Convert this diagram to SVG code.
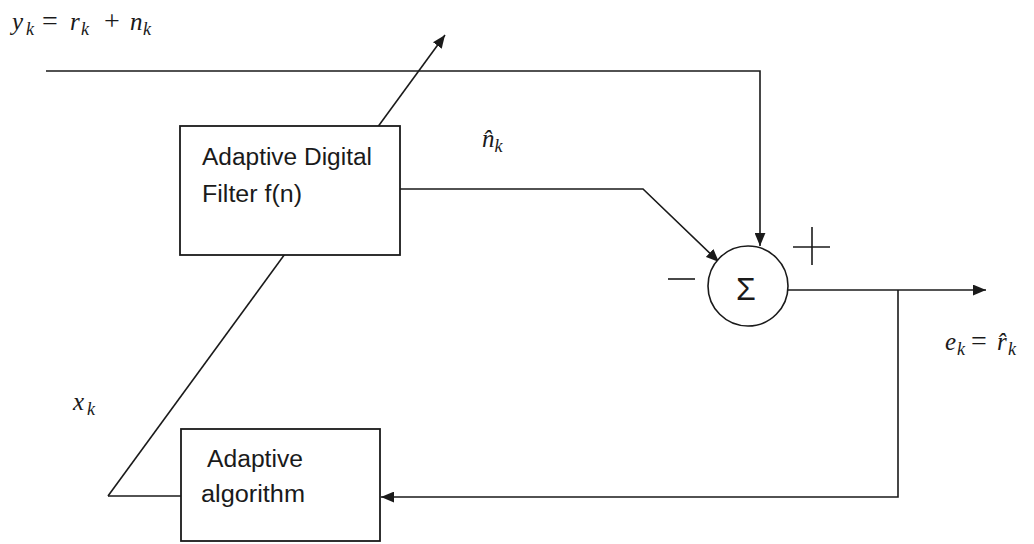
<svg xmlns="http://www.w3.org/2000/svg" width="1034" height="544" viewBox="0 0 1034 544">
<style>
.ln{fill:none;stroke:#1a1a1a;stroke-width:1.6}
.box{fill:#fff;stroke:#1a1a1a;stroke-width:1.8}
.lbl{font-family:"Liberation Sans",Arial,sans-serif;font-size:23px;fill:#1a1a1a}
.m{font-family:"Liberation Serif","DejaVu Serif",serif;font-style:italic;font-size:25px;fill:#1a1a1a}
.sub{font-size:18px}
.op{font-style:normal}
</style>
<defs>
<marker id="ah" viewBox="0 0 12 10" refX="12" refY="5" markerWidth="13" markerHeight="11" markerUnits="userSpaceOnUse" orient="auto">
<path d="M0,0 L12,5 L0,10 Z" fill="#1a1a1a"/>
</marker>
</defs>
<rect width="1034" height="544" fill="#fff"/>
<g id="connectors">
<polyline class="ln" points="46,71 760,71 760,246" marker-end="url(#ah)"/>
<line class="ln" x1="108" y1="496" x2="445" y2="35" marker-end="url(#ah)"/>
<line class="ln" x1="108" y1="496" x2="181" y2="496"/>
<polyline class="ln" points="400,189 643,189 719,262" marker-end="url(#ah)"/>
<line class="ln" x1="788" y1="290" x2="986" y2="290" marker-end="url(#ah)"/>
<polyline class="ln" points="898,290 898,497 381,497" marker-end="url(#ah)"/>
</g>
<g id="filter">
<rect class="box" x="180" y="126" width="220" height="129"/>
<text class="lbl" x="202" y="165" textLength="170" lengthAdjust="spacingAndGlyphs">Adaptive Digital</text>
<text class="lbl" x="202" y="202" textLength="100" lengthAdjust="spacingAndGlyphs">Filter f(n)</text>
</g>
<g id="algorithm">
<rect class="box" x="181" y="429" width="199" height="112"/>
<text class="lbl" x="207" y="467" textLength="96" lengthAdjust="spacingAndGlyphs">Adaptive</text>
<text class="lbl" x="201" y="502" textLength="104" lengthAdjust="spacingAndGlyphs">algorithm</text>
</g>
<g id="sum">
<circle cx="748" cy="286" r="40" fill="#fff" stroke="#1a1a1a" stroke-width="1.6"/>
<text x="746" y="300" text-anchor="middle" font-family="'Liberation Sans',sans-serif" font-size="32" fill="#1a1a1a">Σ</text>
<line class="ln" x1="668" y1="279" x2="695" y2="279"/>
<line class="ln" x1="793" y1="247" x2="830" y2="247"/>
<line class="ln" x1="812" y1="227" x2="812" y2="265"/>
</g>
<g id="labels">
<text class="m" x="12" y="30">y<tspan class="sub" x="26" y="35">k</tspan><tspan class="op" x="42" y="30" font-size="28">=</tspan><tspan x="70" y="30">r</tspan><tspan class="sub" x="81" y="35">k</tspan><tspan class="op" x="104" y="30" font-size="28">+</tspan><tspan x="130" y="30">n</tspan><tspan class="sub" x="143" y="35">k</tspan></text>
<text class="m" x="482" y="147">n̂<tspan class="sub" dy="5">k</tspan></text>
<text class="m" x="73" y="410">x<tspan class="sub" dy="5" dx="3">k</tspan></text>
<text class="m" x="945" y="350">e<tspan class="sub" x="957" y="355">k</tspan><tspan class="op" x="971" y="350" font-size="28">=</tspan><tspan x="997" y="350">r̂</tspan><tspan class="sub" x="1008" y="355">k</tspan></text>
</g>
</svg>
